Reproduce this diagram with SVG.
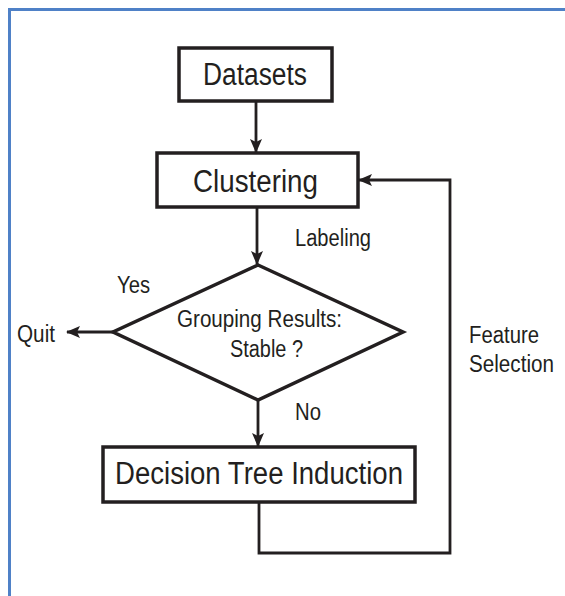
<svg xmlns="http://www.w3.org/2000/svg" width="565" height="596" viewBox="0 0 565 596">
<style>
.frame{fill:none;stroke:#4f81c7;stroke-width:3}
.box{fill:#fff;stroke:#231f20;stroke-width:3.5}
.conn{fill:none;stroke:#231f20;stroke-width:2.8}
.big{font-family:"Liberation Sans Narrow","Liberation Sans",Arial,sans-serif;font-size:31px;fill:#231f20}
.lab{font-family:"Liberation Sans Narrow","Liberation Sans",Arial,sans-serif;font-size:23px;fill:#231f20}
</style>
<defs>
<marker id="ah" markerUnits="userSpaceOnUse" markerWidth="14" markerHeight="14" viewBox="0 0 14 14" refX="13" refY="7" orient="auto">
<path d="M0,1 L14,7 L0,13 L3,7 Z" fill="#231f20"/>
</marker>
</defs>
<rect width="565" height="596" fill="#fff"/>
<path class="frame" d="M9.5,600 V9.5 H570"/>
<g id="connectors">
<line class="conn" x1="256" y1="101" x2="256" y2="152" marker-end="url(#ah)"/>
<line class="conn" x1="257" y1="207" x2="257" y2="264" marker-end="url(#ah)"/>
<line class="conn" x1="258" y1="400" x2="258" y2="446" marker-end="url(#ah)"/>
<line class="conn" x1="113" y1="332" x2="67" y2="332" marker-end="url(#ah)"/>
<path class="conn" d="M259,502 V553 H450 V180 H359" marker-end="url(#ah)"/>
</g>
<g id="datasets">
<rect class="box" x="179" y="48" width="153" height="53"/>
<text class="big" x="203" y="85" textLength="104" lengthAdjust="spacingAndGlyphs">Datasets</text>
</g>
<g id="clustering">
<rect class="box" x="157" y="153" width="201" height="54"/>
<text class="big" x="193" y="192" textLength="125" lengthAdjust="spacingAndGlyphs">Clustering</text>
</g>
<g id="decision">
<path class="box" d="M258,265 L403,332 L258,400 L113,332 Z" stroke-width="3.2"/>
<text class="lab" x="177" y="327" textLength="165" lengthAdjust="spacingAndGlyphs">Grouping Results:</text>
<text class="lab" x="230" y="357" textLength="73" lengthAdjust="spacingAndGlyphs">Stable ?</text>
</g>
<g id="induction">
<rect class="box" x="103" y="447" width="312" height="55"/>
<text class="big" x="115" y="484" textLength="288" lengthAdjust="spacingAndGlyphs">Decision Tree Induction</text>
</g>
<g id="labels">
<text class="lab" x="295" y="246" textLength="76" lengthAdjust="spacingAndGlyphs">Labeling</text>
<text class="lab" x="117" y="293" textLength="33" lengthAdjust="spacingAndGlyphs">Yes</text>
<text class="lab" x="17" y="342" textLength="38" lengthAdjust="spacingAndGlyphs">Quit</text>
<text class="lab" x="295" y="420" textLength="26" lengthAdjust="spacingAndGlyphs">No</text>
<text class="lab" x="469" y="343" textLength="70" lengthAdjust="spacingAndGlyphs">Feature</text>
<text class="lab" x="469" y="372" textLength="85" lengthAdjust="spacingAndGlyphs">Selection</text>
</g>
</svg>
